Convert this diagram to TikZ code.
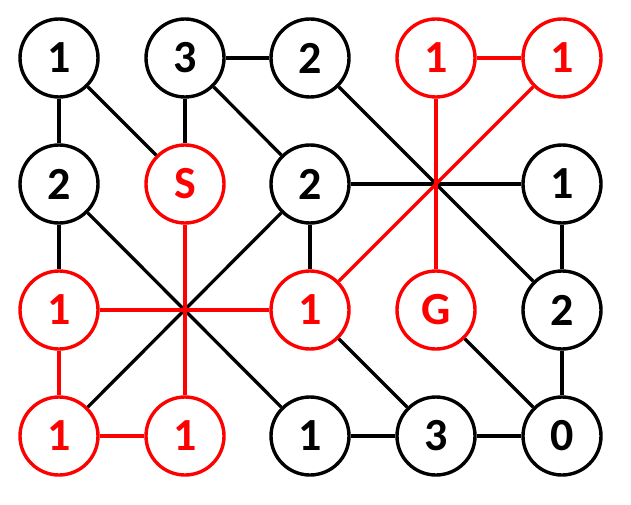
\documentclass[tikz,border=0pt]{standalone}
\usepackage{fontspec}
\setmainfont{Carlito}
\begin{document}
\begin{tikzpicture}[x=1pt,y=-1pt,
  nd/.style={circle,draw=black,line width=3.4pt,minimum size=78pt,inner sep=0pt,font=\fontsize{46}{46}\selectfont\bfseries,text=black,fill=white},
  rnd/.style={nd,draw=red,text=red},
  bl/.style={line width=3.3pt,draw=black},
  rl/.style={line width=3.3pt,draw=red}]
\useasboundingbox (0,0) rectangle (631,505);
% nodes
\node[nd]  (a11) at (59,58)  {1};
\node[nd]  (a12) at (185,58) {3};
\node[nd]  (a13) at (310,58) {2};
\node[rnd] (a14) at (436,58) {1};
\node[rnd] (a15) at (562,58) {1};
\node[nd]  (a21) at (59,184) {2};
\node[rnd] (a22) at (185,184) {S};
\node[nd]  (a23) at (310,184) {2};
\node[nd]  (a25) at (562,184) {1};
\node[rnd] (a31) at (59,310) {1};
\node[rnd] (a33) at (310,310) {1};
\node[rnd] (a34) at (436,310) {G};
\node[nd]  (a35) at (562,310) {2};
\node[rnd] (a41) at (59,436) {1};
\node[rnd] (a42) at (185,436) {1};
\node[nd]  (a43) at (310,436) {1};
\node[nd]  (a44) at (436,436) {3};
\node[nd]  (a45) at (562,436) {0};
% black edges
\path[bl] (a11) -- (a21);
\path[bl] (a11) -- (a22);
\path[bl] (a12) -- (a22);
\path[bl] (a12) -- (a13);
\path[bl] (a12) -- (a23);
\path[bl] (a13) -- (a35);
\path[bl] (a23) -- (a25);
\path[bl] (a21) -- (a31);
\path[bl] (a21) -- (a43);
\path[bl] (a23) -- (a41);
\path[bl] (a23) -- (a33);
\path[bl] (a33) -- (a44);
\path[bl] (a43) -- (a44);
\path[bl] (a44) -- (a45);
\path[bl] (a34) -- (a45);
\path[bl] (a35) -- (a45);
\path[bl] (a25) -- (a35);
% red edges
\path[rl] (a14) -- (a15);
\path[rl] (a14) -- (a34);
\path[rl] (a15) -- (a33);
\path[rl] (a22) -- (a42);
\path[rl] (a31) -- (a33);
\path[rl] (a31) -- (a41);
\path[rl] (a41) -- (a42);
\end{tikzpicture}
\end{document}
